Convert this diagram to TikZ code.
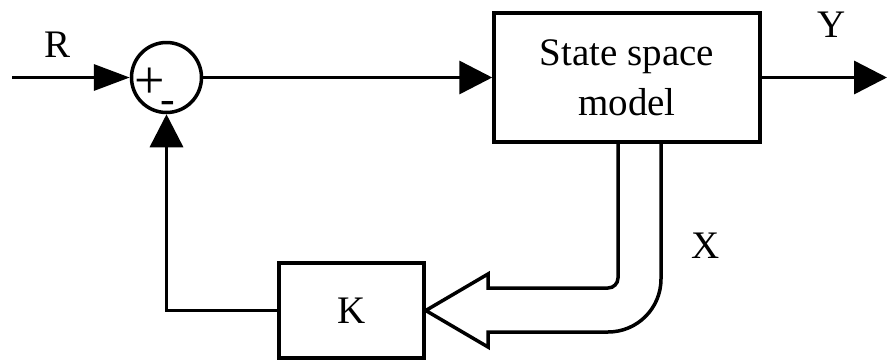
\documentclass[tikz,border=0pt]{standalone}
\usepackage{fontspec}
\setmainfont{Liberation Serif}
\usetikzlibrary{arrows.meta}
\begin{document}
\begin{tikzpicture}[x=1pt,y=-1pt,
  lw/.style={line width=3.5pt},
  blk/.style={draw,lw,rectangle,inner sep=0pt,align=center},
  sumc/.style={draw,lw,circle,minimum size=70pt,inner sep=0pt},
  lbl/.style={inner sep=0pt},
  arrA/.style={lw,-{Triangle[length=33pt,width=33pt]}},
  arrB/.style={lw,-{Triangle[length=36pt,width=26pt]}},
  every node/.style={font=\fontsize{39}{50}\selectfont}]
\useasboundingbox (0,0) rectangle (887,360);
\node[sumc] (sum) at (166.5,77.5) {};
\node[lbl,anchor=base west,font=\fontsize{54}{54}\selectfont] (signs) at (134,98.6)
  {+\kern-4pt\raisebox{-14.6pt}{\fontsize{44}{44}\selectfont -}};
\node[blk,minimum width=266pt,minimum height=129pt] (ss) at (627,77.5) {State space\\model};
\node[blk,minimum width=145pt,minimum height=95pt] (K) at (351.5,310.5) {K};
\node[lbl] (R) at (58,45) {R};
\node[lbl] (Y) at (832,25) {Y};
\node[lbl] (X) at (706,246) {X};
\coordinate (in) at (12,77.5);
\coordinate (out) at (887,77.5);
\draw[arrB] (in) -- (sum.west);
\draw[arrA] (sum.east) -- (ss.west);
\draw[arrA] (ss.east) -- (out);
\draw[arrA] (K.west) -| (sum.south);
\draw[lw,line join=miter] (618,142) -- (618,278) arc[start angle=0,end angle=90,radius=10]
  -- (488,288) -- (488,274) -- (K.east) -- (488,347) -- (488,332) -- (608,332)
  arc[start angle=90,end angle=0,radius=53] -- (661,142);
\end{tikzpicture}
\end{document}
